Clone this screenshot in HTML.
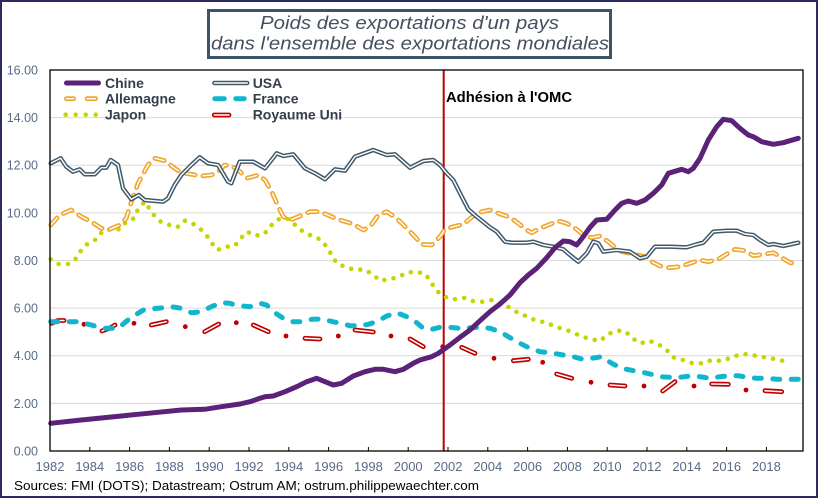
<!DOCTYPE html>
<html><head><meta charset="utf-8"><style>
html,body{margin:0;padding:0;background:#fff;}
svg{display:block;}
text{font-family:"Liberation Sans",Arial,sans-serif;}
</style></head><body>
<svg width="818" height="498" viewBox="0 0 818 498" xmlns="http://www.w3.org/2000/svg">
<rect x="0" y="0" width="818" height="498" fill="#fff"/>
<rect x="1" y="1" width="816" height="496" fill="none" stroke="#2e2b5e" stroke-width="2"/>

<!-- title -->
<rect x="208.5" y="10.5" width="402" height="47" fill="#fff" stroke="#3d5468" stroke-width="3"/>
<text x="409.5" y="29" text-anchor="middle" font-size="18" font-style="italic" fill="#454f61" textLength="299" lengthAdjust="spacingAndGlyphs">Poids des exportations d'un pays</text>
<text x="410" y="49.5" text-anchor="middle" font-size="18" font-style="italic" fill="#454f61" textLength="398" lengthAdjust="spacingAndGlyphs">dans l'ensemble des exportations mondiales</text>

<!-- gridlines -->
<g stroke="#d9d9d9" stroke-width="1">
<line x1="50" y1="403.4" x2="803" y2="403.4"/>
<line x1="50" y1="355.75" x2="803" y2="355.75"/>
<line x1="50" y1="308.1" x2="803" y2="308.1"/>
<line x1="50" y1="260.5" x2="803" y2="260.5"/>
<line x1="50" y1="212.9" x2="803" y2="212.9"/>
<line x1="50" y1="165.25" x2="803" y2="165.25"/>
<line x1="50" y1="117.6" x2="803" y2="117.6"/>
</g>

<!-- y labels -->
<g font-size="12.5" fill="#5a6a88" text-anchor="end">
<text x="38" y="74.5">16.00</text>
<text x="38" y="122">14.00</text>
<text x="38" y="169.7">12.00</text>
<text x="38" y="217.4">10.00</text>
<text x="38" y="265">8.00</text>
<text x="38" y="312.6">6.00</text>
<text x="38" y="360.2">4.00</text>
<text x="38" y="407.9">2.00</text>
<text x="38" y="455.5">0.00</text>
</g>

<!-- x labels -->
<g font-size="13" fill="#5a6a88" text-anchor="middle">
<text x="50" y="471">1982</text>
<text x="89.8" y="471">1984</text>
<text x="129.6" y="471">1986</text>
<text x="169.4" y="471">1988</text>
<text x="209.2" y="471">1990</text>
<text x="249" y="471">1992</text>
<text x="288.8" y="471">1994</text>
<text x="328.6" y="471">1996</text>
<text x="368.4" y="471">1998</text>
<text x="408.2" y="471">2000</text>
<text x="448" y="471">2002</text>
<text x="487.8" y="471">2004</text>
<text x="527.6" y="471">2006</text>
<text x="567.4" y="471">2008</text>
<text x="607.2" y="471">2010</text>
<text x="647" y="471">2012</text>
<text x="686.8" y="471">2014</text>
<text x="726.6" y="471">2016</text>
<text x="766.4" y="471">2018</text>
</g>

<text x="14" y="490" font-size="13" fill="#000" textLength="465" lengthAdjust="spacingAndGlyphs">Sources: FMI (DOTS); Datastream; Ostrum AM; ostrum.philippewaechter.com</text>

<!-- ticks -->
<g stroke="#000" stroke-width="1">
<line x1="89.8" y1="447" x2="89.8" y2="451"/><line x1="129.6" y1="447" x2="129.6" y2="451"/>
<line x1="169.4" y1="447" x2="169.4" y2="451"/><line x1="209.2" y1="447" x2="209.2" y2="451"/>
<line x1="249" y1="447" x2="249" y2="451"/><line x1="288.8" y1="447" x2="288.8" y2="451"/>
<line x1="328.6" y1="447" x2="328.6" y2="451"/><line x1="368.4" y1="447" x2="368.4" y2="451"/>
<line x1="408.2" y1="447" x2="408.2" y2="451"/><line x1="448" y1="447" x2="448" y2="451"/>
<line x1="487.8" y1="447" x2="487.8" y2="451"/><line x1="527.6" y1="447" x2="527.6" y2="451"/>
<line x1="567.4" y1="447" x2="567.4" y2="451"/><line x1="607.2" y1="447" x2="607.2" y2="451"/>
<line x1="647" y1="447" x2="647" y2="451"/><line x1="686.8" y1="447" x2="686.8" y2="451"/>
<line x1="726.6" y1="447" x2="726.6" y2="451"/><line x1="766.4" y1="447" x2="766.4" y2="451"/>
</g>

<!-- OMC line -->
<line x1="443.7" y1="70" x2="443.7" y2="451" stroke="#c00000" stroke-width="2"/>
<text x="446" y="102" font-size="14.5" font-weight="bold" fill="#000" textLength="126" lengthAdjust="spacingAndGlyphs">Adhésion à l'OMC</text>

<!-- Royaume Uni -->
<g fill="none" stroke-linecap="round" stroke-linejoin="round">
<path stroke="#c00000" stroke-width="4.8" d="M51.5,323.3 L58,320.5 L64,320.5 M102,331 L110,328 L115,325 M151.3,325 L166.3,321.7 M204.7,331.7 L218.7,324 M253.3,325 L268.3,331.7 M305,338.3 L320,339 M355,330 L373.3,332 M410,339 L423.3,346.7 M461.7,347.3 L475,353.3 M513.3,360.7 L528.3,359.3 M556.7,374 L571.7,378.3 M610,385 L625,386 M662.7,391 L675,381.7 M711.7,384 L728.3,384.3 M765,390.7 L781.7,391.7"/>
<path stroke="#fff" stroke-width="1.5" d="M51.5,323.3 L58,320.5 L64,320.5 M102,331 L110,328 L115,325 M151.3,325 L166.3,321.7 M204.7,331.7 L218.7,324 M253.3,325 L268.3,331.7 M305,338.3 L320,339 M355,330 L373.3,332 M410,339 L423.3,346.7 M461.7,347.3 L475,353.3 M513.3,360.7 L528.3,359.3 M556.7,374 L571.7,378.3 M610,385 L625,386 M662.7,391 L675,381.7 M711.7,384 L728.3,384.3 M765,390.7 L781.7,391.7"/>
</g>
<g fill="#c00000">
<circle cx="84" cy="324.3" r="2.4"/><circle cx="134" cy="323.3" r="2.4"/><circle cx="185.3" cy="326.7" r="2.4"/>
<circle cx="236.3" cy="322.7" r="2.4"/><circle cx="286" cy="336" r="2.4"/><circle cx="338.3" cy="336" r="2.4"/>
<circle cx="391" cy="336" r="2.4"/><circle cx="442.7" cy="346.7" r="2.4"/><circle cx="494" cy="358.3" r="2.4"/>
<circle cx="542.7" cy="362.3" r="2.4"/><circle cx="591" cy="382.3" r="2.4"/><circle cx="644" cy="386" r="2.4"/>
<circle cx="694" cy="386" r="2.4"/><circle cx="746" cy="390" r="2.4"/>
</g>

<!-- Japon -->
<path fill="none" stroke="#c4d600" stroke-width="4.6" stroke-linecap="round" stroke-linejoin="round" stroke-dasharray="0 9.3" d="M50.7,259.3 L58,264 L68,264 L76.3,258.3 L81.3,250 L88,243.3 L96.3,239.3 L103,230.7 L111.3,229.3 L119.7,229.3 L126.3,221.7 L134,218.3 L138,209.3 L144.7,201.7 L154,215 L160.7,221.7 L169.7,225 L177.3,227.3 L184.7,220.7 L192.3,223.3 L199.7,228.3 L206.3,235 L212,243.3 L217.3,250 L226.3,246.7 L234.7,246 L240.7,238.3 L247.3,231.7 L255,235.7 L264,234.3 L270.7,226 L276.7,220 L282.7,218.3 L290,219.3 L296,226 L303.3,231.7 L311.7,236 L320,239.3 L326.7,246.7 L331.7,255 L336.7,263.3 L346,267.3 L355,270 L364,269.3 L372.7,274.3 L380,280.7 L388.3,279.3 L398.3,277.3 L406.7,272.7 L416.7,271.7 L425.7,274.3 L431,282.3 L436.7,290.7 L444,296.7 L454,299.3 L463.3,297.7 L472.7,301 L482.3,301.7 L491.7,300 L501,303.3 L510,307.7 L518.7,313.3 L527.7,316.7 L536.7,321 L546,322.3 L555,326.7 L564.3,329.3 L572.7,332.3 L581.7,336.7 L591,339 L600,341 L607.7,334.3 L616.7,330.7 L625,331 L632.3,338.3 L640.7,343.3 L649.3,340.7 L658.3,344.3 L666.7,350 L673.3,357.3 L682.7,360 L692.7,363.3 L702.7,363.3 L711.7,360 L721.7,361 L731,357.7 L740,354.3 L749.3,354.3 L759.3,356.7 L769,357.7 L778.3,360 L788.3,361.7"/>

<!-- France -->
<path fill="none" stroke="#12b6cc" stroke-width="5" stroke-linecap="round" stroke-linejoin="round" stroke-dasharray="7 11.5" d="M50.7,321.7 L61.3,321.7 L78,321.7 L91.3,325 L103,328.3 L118,328.3 L128,320 L138,313.3 L144.7,309.3 L158,308.3 L171.3,306.7 L181.3,308.3 L191.3,312.7 L201.3,311.7 L211.3,306.7 L221.3,302.7 L229.7,303.3 L238,305.7 L250,306.7 L260,303.3 L266.7,305 L273.3,311.7 L283.3,318.3 L291.7,321.7 L303.3,321.7 L311.7,319.3 L321.7,319 L330,321 L340,323.3 L350,325.7 L360,325.7 L368.3,324.3 L376.7,321.7 L386.7,316 L396.7,312.7 L406.7,316.7 L416.7,322.7 L423.3,328.3 L431.7,329.3 L440,327.3 L448.3,327.3 L460,328.3 L470,327.7 L480,327.3 L490,328.3 L500,331.7 L510,337.7 L520,343.3 L530,348.3 L540,351.7 L553.3,353.3 L563.3,355 L573.3,356.7 L581.7,359 L591.7,358.3 L601.7,356.7 L611.7,363.3 L621.7,368.3 L630,370 L640,371.7 L650,374 L660,376.7 L670,377.3 L680,377.3 L690,376 L700,376.7 L710,378.3 L720,376.7 L730,375.7 L738.3,375.7 L746.7,377.3 L756.7,378.3 L766.7,378.3 L776.7,379.3 L786.7,379.3 L798.3,379.3"/>

<!-- Allemagne -->
<g fill="none" stroke-linecap="round" stroke-linejoin="round" stroke-dasharray="9.5 8">
<path stroke="#f0a830" stroke-width="4.8" d="M50.7,225 L59.7,215 L71.3,210 L81.3,216.7 L91.3,221.7 L101.3,228.3 L109.7,229.3 L119.7,225 L126.3,218.3 L129.7,206.7 L138,183.3 L148,165 L154.7,158.3 L164.7,160.7 L174.7,168.3 L181.3,172.7 L191.3,174.3 L201.3,176 L211.3,175 L218,171.7 L224.7,165 L233,166.7 L240,171.7 L246.7,178.3 L258.3,175 L265,180 L271.7,191.7 L278.3,206.7 L283.3,216.7 L290,220 L300,216 L310,211.7 L320,211.7 L330,216 L340,220 L353.3,224 L363.3,230 L370,226.7 L378.3,215 L386.7,211.7 L396.7,218.3 L406.7,228.3 L415,236.7 L421.7,244.3 L431.7,245 L440,236.7 L445,229.3 L453.3,226.7 L463.3,224.3 L473.3,216 L481.7,211.7 L490,210 L498.3,213.3 L510,217.3 L518.3,223.3 L526.7,230 L531.7,232.7 L540,228.3 L548.3,225 L558.3,221 L566.7,223.3 L576.7,229.3 L583.3,235 L591.7,237.7 L600,236 L608.3,241.7 L615,247.3 L621.7,251.7 L630,253.3 L640,255.7 L646.7,256.7 L651.7,261.7 L660,266 L668.3,267.7 L680,266.7 L690,263.3 L700,260 L708.3,261.7 L718.3,259.3 L726.7,254 L735,249.3 L745,250.7 L753.3,255.7 L763.3,254.3 L773.3,252.7 L780,256.7 L790,262.7 L798.3,264"/>
<path stroke="#fff" stroke-width="1.4" d="M50.7,225 L59.7,215 L71.3,210 L81.3,216.7 L91.3,221.7 L101.3,228.3 L109.7,229.3 L119.7,225 L126.3,218.3 L129.7,206.7 L138,183.3 L148,165 L154.7,158.3 L164.7,160.7 L174.7,168.3 L181.3,172.7 L191.3,174.3 L201.3,176 L211.3,175 L218,171.7 L224.7,165 L233,166.7 L240,171.7 L246.7,178.3 L258.3,175 L265,180 L271.7,191.7 L278.3,206.7 L283.3,216.7 L290,220 L300,216 L310,211.7 L320,211.7 L330,216 L340,220 L353.3,224 L363.3,230 L370,226.7 L378.3,215 L386.7,211.7 L396.7,218.3 L406.7,228.3 L415,236.7 L421.7,244.3 L431.7,245 L440,236.7 L445,229.3 L453.3,226.7 L463.3,224.3 L473.3,216 L481.7,211.7 L490,210 L498.3,213.3 L510,217.3 L518.3,223.3 L526.7,230 L531.7,232.7 L540,228.3 L548.3,225 L558.3,221 L566.7,223.3 L576.7,229.3 L583.3,235 L591.7,237.7 L600,236 L608.3,241.7 L615,247.3 L621.7,251.7 L630,253.3 L640,255.7 L646.7,256.7 L651.7,261.7 L660,266 L668.3,267.7 L680,266.7 L690,263.3 L700,260 L708.3,261.7 L718.3,259.3 L726.7,254 L735,249.3 L745,250.7 L753.3,255.7 L763.3,254.3 L773.3,252.7 L780,256.7 L790,262.7 L798.3,264"/>
</g>

<!-- USA -->
<g fill="none" stroke-linecap="round" stroke-linejoin="round">
<path stroke="#3f596b" stroke-width="4.4" d="M50.7,163.3 L60.7,158.3 L66.3,166.7 L73,171.7 L79.7,169.3 L84.7,174.3 L94.7,174.3 L101.3,167.7 L106.3,167.7 L110.7,160 L118,165 L123,188.3 L131.3,199.3 L138.7,195 L144.7,200 L163,201.7 L168,198.3 L174.7,185 L181.3,175 L191.3,165 L199.7,157.3 L208,163.3 L218,165 L228,181.7 L231.3,183.3 L239.7,161.7 L248,161.7 L253.3,161.7 L265,168.3 L276.7,153.3 L283.3,156 L293.3,154.3 L305,168.3 L315,173.3 L325,179.3 L335,169.3 L345,170.7 L355,156.7 L373.3,150 L386.7,155 L395,154.3 L410,167.7 L423.3,161 L433.3,160 L440,165 L446.7,173.3 L453.3,180 L460,193.3 L468.3,209.3 L476.7,216.7 L490,227.3 L496.7,231.7 L505,241.7 L511.7,242.7 L526.7,242.7 L533.3,241.7 L543.3,245 L553.3,246.7 L563.3,249.3 L570,255 L578.3,261.7 L586.7,253.3 L593.3,241.7 L598.3,243.3 L603.3,251.7 L616.7,250 L630,251.7 L640,258.3 L646.7,256.7 L655,246.7 L670,246.7 L686.7,247.3 L696.7,244.3 L703.3,242.7 L713.3,231.7 L726.7,230.7 L736.7,230.7 L745,234 L753.3,235 L760,240 L768.3,245 L773.3,244 L783.3,246 L798.3,242.7"/>
<path stroke="#fff" stroke-width="1.4" d="M50.7,163.3 L60.7,158.3 L66.3,166.7 L73,171.7 L79.7,169.3 L84.7,174.3 L94.7,174.3 L101.3,167.7 L106.3,167.7 L110.7,160 L118,165 L123,188.3 L131.3,199.3 L138.7,195 L144.7,200 L163,201.7 L168,198.3 L174.7,185 L181.3,175 L191.3,165 L199.7,157.3 L208,163.3 L218,165 L228,181.7 L231.3,183.3 L239.7,161.7 L248,161.7 L253.3,161.7 L265,168.3 L276.7,153.3 L283.3,156 L293.3,154.3 L305,168.3 L315,173.3 L325,179.3 L335,169.3 L345,170.7 L355,156.7 L373.3,150 L386.7,155 L395,154.3 L410,167.7 L423.3,161 L433.3,160 L440,165 L446.7,173.3 L453.3,180 L460,193.3 L468.3,209.3 L476.7,216.7 L490,227.3 L496.7,231.7 L505,241.7 L511.7,242.7 L526.7,242.7 L533.3,241.7 L543.3,245 L553.3,246.7 L563.3,249.3 L570,255 L578.3,261.7 L586.7,253.3 L593.3,241.7 L598.3,243.3 L603.3,251.7 L616.7,250 L630,251.7 L640,258.3 L646.7,256.7 L655,246.7 L670,246.7 L686.7,247.3 L696.7,244.3 L703.3,242.7 L713.3,231.7 L726.7,230.7 L736.7,230.7 L745,234 L753.3,235 L760,240 L768.3,245 L773.3,244 L783.3,246 L798.3,242.7"/>
</g>

<!-- Chine -->
<path fill="none" stroke="#5b2278" stroke-width="5" stroke-linecap="round" stroke-linejoin="round" d="M50.7,423.3 L81.3,420 L121.3,416 L148,413.3 L181.3,410 L204.7,409.3 L221.3,406.7 L240,404 L250,401.7 L260,398.3 L265,396.7 L273.3,396 L285,391.7 L296.7,386.7 L306.7,381.7 L316.7,378.3 L325,381.7 L333.3,385 L341.7,383.3 L353.3,376 L365,371.7 L375,369.3 L383.3,369.3 L395,371.7 L403.3,369.3 L413.3,363.3 L420,360 L431.7,356.7 L438.3,353.3 L450,345 L460,337.3 L470,330 L480,320.7 L490,311.7 L500,304 L510,295 L520,282.7 L528.3,275 L536.7,268.3 L546.7,257.7 L555,247.7 L563.3,241 L570,241.7 L576.7,245 L583.3,236.7 L590,227.3 L596.7,220 L606.7,219.3 L615,210 L621.7,203.3 L628.3,201 L636.7,203.3 L645,200 L653.3,193.3 L661.7,185 L668.3,173.3 L681.7,169.3 L688.3,171.7 L693.3,168.3 L700,158.3 L708.3,140 L716.7,126.7 L723.3,119.3 L731.7,120.7 L740,128.3 L748.3,135 L753.3,136.7 L761.7,141.7 L773.3,144.3 L783.3,142.7 L790,140.7 L798.3,138.3"/>

<!-- plot border -->
<rect x="50" y="70" width="753" height="381" fill="none" stroke="#000" stroke-width="1.3"/>

<!-- legend -->
<g fill="none" stroke-linecap="round">
<line x1="66.5" y1="83" x2="98.5" y2="83" stroke="#5b2278" stroke-width="5"/>
<line x1="214.3" y1="83" x2="247.3" y2="83" stroke="#3f596b" stroke-width="4.4"/>
<line x1="214.3" y1="83" x2="247.3" y2="83" stroke="#fff" stroke-width="1.4"/>
<path d="M66.4,98.7 H73.6 M87.1,98.7 H95.6" stroke="#f0a830" stroke-width="4.8"/>
<path d="M66.4,98.7 H73.6 M87.1,98.7 H95.6" stroke="#fff" stroke-width="1.4"/>
<path d="M214.8,98.7 H224.2 M235.8,98.7 H244.2" stroke="#12b6cc" stroke-width="5"/>
<path d="M65.7,114.7 h0 M75.7,114.7 h0 M85.7,114.7 h0 M95.7,114.7 h0" stroke="#c4d600" stroke-width="4.6"/>
<line x1="214.3" y1="115" x2="229" y2="115" stroke="#c00000" stroke-width="4.8"/>
<line x1="214.3" y1="115" x2="229" y2="115" stroke="#fff" stroke-width="1.5"/>
</g>
<g font-size="14" font-weight="bold" fill="#363e4e">
<text x="105" y="88">Chine</text>
<text x="105" y="103.7">Allemagne</text>
<text x="105" y="119.7">Japon</text>
<text x="252.7" y="88">USA</text>
<text x="252.7" y="103.7">France</text>
<text x="252.7" y="119.7">Royaume Uni</text>
</g>
</svg>
</body></html>
